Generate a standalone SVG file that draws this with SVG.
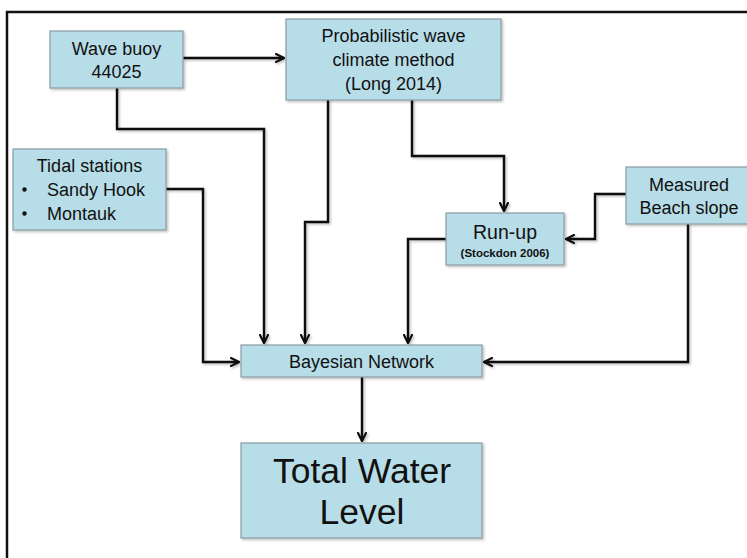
<svg xmlns="http://www.w3.org/2000/svg" width="747" height="558" viewBox="0 0 747 558">
<defs>
<marker id="arr" viewBox="0 0 10 10" refX="9" refY="5" markerWidth="10" markerHeight="10" markerUnits="userSpaceOnUse" orient="auto">
<path d="M1,1 L9,5 L1,9" fill="none" stroke="#111" stroke-width="2.2" stroke-linecap="round" stroke-linejoin="miter"/>
</marker>
<filter id="sh" filterUnits="userSpaceOnUse" x="0" y="0" width="747" height="558">
<feDropShadow dx="1.5" dy="1.5" stdDeviation="1.2" flood-color="#000" flood-opacity="0.25"/>
</filter>
</defs>
<style>
.box{fill:#b7dde8;stroke:#8a9ba2;stroke-width:1.2;filter:url(#sh)}
.t{font-family:"Liberation Sans",Arial,sans-serif;fill:#111;font-size:18px}
.c{text-anchor:middle}
.ln{fill:none;stroke:#111;stroke-width:2.4;stroke-linejoin:miter}
</style>
<rect x="7" y="12" width="800" height="600" fill="#fff" stroke="#111" stroke-width="2.5"/>
<g id="connectors" filter="url(#sh)">
<path class="ln" d="M183,58 H284" marker-end="url(#arr)"/>
<path class="ln" d="M117,88 V129 H264 V343" marker-end="url(#arr)"/>
<path class="ln" d="M328,100 V222 H305 V343" marker-end="url(#arr)"/>
<path class="ln" d="M412,100 V156 H504 V211" marker-end="url(#arr)"/>
<path class="ln" d="M166,189 H203 V362 H239" marker-end="url(#arr)"/>
<path class="ln" d="M626,194 H595 V239 H566" marker-end="url(#arr)"/>
<path class="ln" d="M446,239 H408 V343" marker-end="url(#arr)"/>
<path class="ln" d="M688,224 V362 H484" marker-end="url(#arr)"/>
<path class="ln" d="M362,377 V441" marker-end="url(#arr)"/>
</g>
<g id="wave-buoy">
<rect class="box" x="50" y="31" width="133" height="57"/>
<text class="t c" x="116.5" y="55">Wave buoy</text>
<text class="t c" x="116.5" y="78">44025</text>
</g>
<g id="probabilistic">
<rect class="box" x="286" y="19" width="215" height="81"/>
<text class="t c" x="393.5" y="42">Probabilistic wave</text>
<text class="t c" x="393.5" y="66">climate method</text>
<text class="t c" x="393.5" y="90">(Long 2014)</text>
</g>
<g id="tidal">
<rect class="box" x="13" y="149" width="153" height="81"/>
<text class="t c" x="89.5" y="172">Tidal stations</text>
<circle cx="24.5" cy="189.5" r="2.2" fill="#111"/>
<text class="t" x="47" y="196">Sandy Hook</text>
<circle cx="24.5" cy="213.5" r="2.2" fill="#111"/>
<text class="t" x="47" y="220">Montauk</text>
</g>
<g id="run-up">
<rect class="box" x="446" y="213" width="118" height="52"/>
<text class="t c" x="505" y="239" style="font-size:19.5px">Run-up</text>
<text class="t c" x="505" y="257" style="font-size:11.5px;font-weight:bold">(Stockdon 2006)</text>
</g>
<g id="measured">
<rect class="box" x="626" y="167" width="125" height="57"/>
<text class="t c" x="689" y="191">Measured</text>
<text class="t c" x="689" y="214">Beach slope</text>
</g>
<g id="bayesian">
<rect class="box" x="241" y="345" width="241" height="32"/>
<text class="t c" x="361.5" y="368">Bayesian Network</text>
</g>
<g id="total-water-level">
<rect class="box" x="241" y="443" width="241" height="95"/>
<text class="t c" x="362" y="483" style="font-size:35.5px">Total Water</text>
<text class="t c" x="362" y="524" style="font-size:35.5px">Level</text>
</g>
</svg>
